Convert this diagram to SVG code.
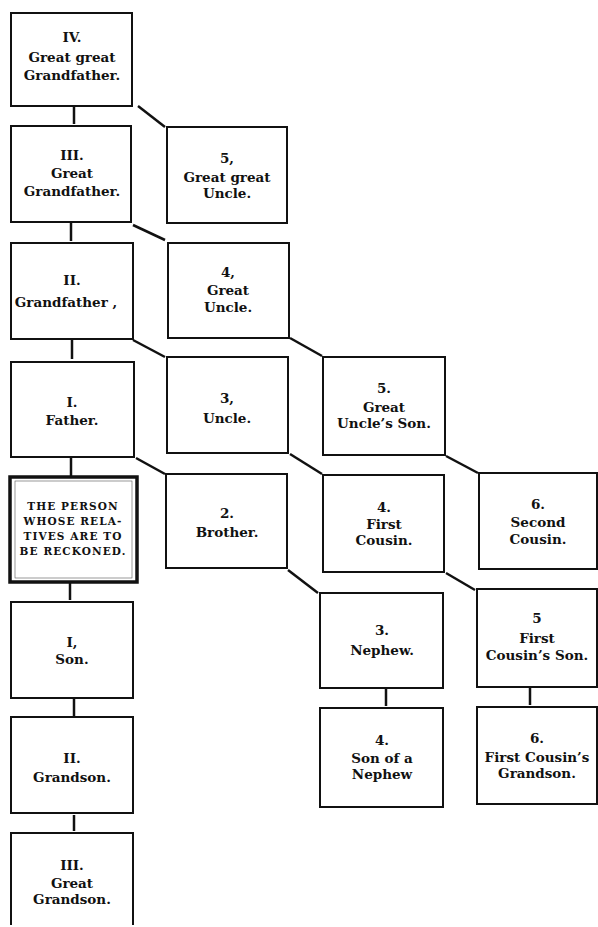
<svg xmlns="http://www.w3.org/2000/svg" width="598" height="927" viewBox="0 0 598 927">
<style>
.b{fill:none;stroke:#111;stroke-width:2}
.c{stroke:#111;stroke-width:2.5;fill:none}
text{font-family:"DejaVu Serif","Liberation Serif",serif;font-weight:bold;font-size:13.5px;fill:#111;text-anchor:middle}
.s{font-size:10.5px;letter-spacing:1.1px}
</style>
<rect width="598" height="927" fill="#fff"/>
<g id="connectors">
<line class="c" x1="74" y1="107" x2="74" y2="124"/>
<line class="c" x1="71" y1="223" x2="71" y2="241"/>
<line class="c" x1="72" y1="340" x2="72" y2="359"/>
<line class="c" x1="71" y1="458" x2="71" y2="476"/>
<line class="c" x1="70" y1="583" x2="70" y2="600"/>
<line class="c" x1="74" y1="699" x2="74" y2="716"/>
<line class="c" x1="74" y1="815" x2="74" y2="831"/>
<line class="c" x1="386" y1="689" x2="386" y2="706"/>
<line class="c" x1="530" y1="688" x2="530" y2="705"/>
<line class="c" x1="138" y1="106" x2="165" y2="127"/>
<line class="c" x1="133" y1="225" x2="165" y2="240"/>
<line class="c" x1="133" y1="340" x2="165" y2="357"/>
<line class="c" x1="136" y1="458" x2="165" y2="474"/>
<line class="c" x1="290" y1="338" x2="322" y2="356"/>
<line class="c" x1="290" y1="454" x2="322" y2="474"/>
<line class="c" x1="288" y1="570" x2="318" y2="593"/>
<line class="c" x1="446" y1="456" x2="478" y2="473"/>
<line class="c" x1="446" y1="573" x2="475" y2="590"/>
</g>
<g id="n-iv"><rect class="b" x="11" y="13" width="121" height="93"/><text x="72" y="42">IV.</text><text x="72" y="62">Great great</text><text x="72" y="80">Grandfather.</text></g>
<g id="n-iii"><rect class="b" x="11" y="126" width="120" height="96"/><text x="72" y="160">III.</text><text x="72" y="178">Great</text><text x="72" y="196">Grandfather.</text></g>
<g id="n-ii"><rect class="b" x="11" y="243" width="122" height="96"/><text x="72" y="285">II.</text><text x="66" y="307">Grandfather ,</text></g>
<g id="n-i"><rect class="b" x="11" y="362" width="123" height="95"/><text x="72" y="407">I.</text><text x="72" y="425">Father.</text></g>
<g id="n-person"><rect x="10" y="477" width="127" height="105" fill="none" stroke="#111" stroke-width="3.5"/><rect x="15" y="481" width="117" height="97" fill="none" stroke="#555" stroke-width="0.6"/><text class="s" x="73" y="510">THE PERSON</text><text class="s" x="73" y="525">WHOSE RELA-</text><text class="s" x="73" y="540">TIVES ARE TO</text><text class="s" x="73" y="555">BE RECKONED.</text></g>
<g id="n-son"><rect class="b" x="11" y="602" width="122" height="96"/><text x="72" y="647">I,</text><text x="72" y="664">Son.</text></g>
<g id="n-grandson"><rect class="b" x="11" y="717" width="122" height="96"/><text x="72" y="763">II.</text><text x="72" y="782">Grandson.</text></g>
<g id="n-ggrandson"><path class="b" d="M11,925 V833 H133 V925"/><text x="72" y="870">III.</text><text x="72" y="888">Great</text><text x="72" y="904">Grandson.</text></g>
<g id="n-gguncle"><rect class="b" x="167" y="127" width="120" height="96"/><text x="227" y="163">5,</text><text x="227" y="182">Great great</text><text x="227" y="198">Uncle.</text></g>
<g id="n-guncle"><rect class="b" x="168" y="243" width="121" height="95"/><text x="228" y="277">4,</text><text x="228" y="295">Great</text><text x="228" y="312">Uncle.</text></g>
<g id="n-uncle"><rect class="b" x="167" y="357" width="121" height="96"/><text x="227" y="403">3,</text><text x="227" y="423">Uncle.</text></g>
<g id="n-brother"><rect class="b" x="166" y="474" width="121" height="94"/><text x="227" y="518">2.</text><text x="227" y="537">Brother.</text></g>
<g id="n-gunclesson"><rect class="b" x="323" y="357" width="122" height="98"/><text x="384" y="393">5.</text><text x="384" y="412">Great</text><text x="384" y="428">Uncle’s Son.</text></g>
<g id="n-firstcousin"><rect class="b" x="323" y="475" width="121" height="97"/><text x="384" y="512">4.</text><text x="384" y="529">First</text><text x="384" y="545">Cousin.</text></g>
<g id="n-secondcousin"><rect class="b" x="479" y="473" width="118" height="96"/><text x="538" y="509">6.</text><text x="538" y="527">Second</text><text x="538" y="544">Cousin.</text></g>
<g id="n-nephew"><rect class="b" x="320" y="593" width="123" height="95"/><text x="382" y="635">3.</text><text x="382" y="655">Nephew.</text></g>
<g id="n-fcson"><rect class="b" x="477" y="589" width="120" height="98"/><text x="537" y="623">5</text><text x="537" y="643">First</text><text x="537" y="660">Cousin’s Son.</text></g>
<g id="n-sonnephew"><rect class="b" x="320" y="708" width="123" height="99"/><text x="382" y="745">4.</text><text x="382" y="763">Son of a</text><text x="382" y="779">Nephew</text></g>
<g id="n-fcgrandson"><rect class="b" x="477" y="707" width="120" height="97"/><text x="537" y="743">6.</text><text x="537" y="762">First Cousin’s</text><text x="537" y="778">Grandson.</text></g>
</svg>
